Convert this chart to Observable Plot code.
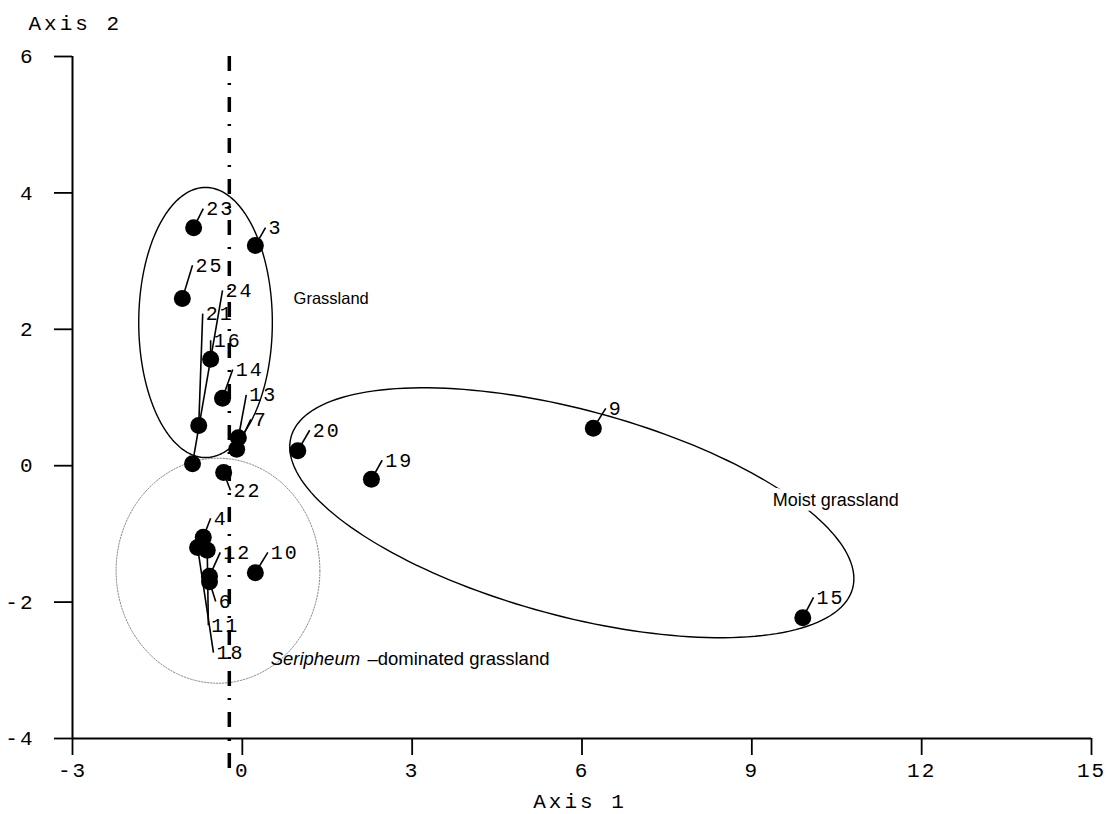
<!DOCTYPE html>
<html>
<head>
<meta charset="utf-8">
<script src="https://cdn.jsdelivr.net/npm/d3@7"></script>
<script src="https://cdn.jsdelivr.net/npm/@observablehq/plot@0.6"></script>
<style>
html, body { margin: 0; padding: 0; background: #fff; }
g[font-family="Liberation Mono"] { letter-spacing: 2px; }
g[font-family="Liberation Mono, monospace"] { letter-spacing: 3px; }
</style>
</head>
<body>
<div id="chart"></div>
<script>
// Sample scores (Axis 1, Axis 2) and their label anchor positions
const sampleIds = ["23","3","25","24","21","16","14","13","7","22","4","12","6","11","18","10","20","19","9","15"];
const axis1 = [-0.86, 0.23, -1.06, -0.88, -0.77, -0.56, -0.35, -0.07, -0.10, -0.33, -0.69, -0.58, -0.58, -0.62, -0.79, 0.23, 0.98, 2.28, 6.20, 9.90];
const axis2 = [3.49, 3.23, 2.45, 0.03, 0.59, 1.56, 0.99, 0.41, 0.24, -0.10, -1.05, -1.62, -1.70, -1.24, -1.20, -1.57, 0.22, -0.20, 0.55, -2.23];
const labelAxis1 = [-0.69, 0.41, -0.88, -0.35, -0.70, -0.56, -0.17, 0.07, 0.15, -0.21, -0.56, -0.39, -0.47, -0.60, -0.51, 0.45, 1.19, 2.47, 6.42, 10.09];
const labelAxis2 = [3.77, 3.49, 2.94, 2.57, 2.23, 1.84, 1.41, 1.04, 0.68, -0.36, -0.77, -1.27, -1.99, -2.34, -2.74, -1.27, 0.52, 0.08, 0.84, -1.93];

// Group ellipses: centre and two conjugate semi-axis vectors (data units)
const ellipseNames = ["Grassland", "Seripheum", "Moist grassland"];
const ellipseCX = [-0.65, -0.43, 5.82];
const ellipseCY = [2.10, -1.54, -0.69];
const ellipseUX = [1.18, 1.80, 4.96];
const ellipseUY = [0, 0, -1.11];
const ellipseVX = [0, 0, -0.475];
const ellipseVY = [1.98, 1.65, -1.458];

// Group labels
const regionText = ["Grassland", "Seripheum", "\u2013dominated grassland", "Moist grassland"];
const regionX = [0.905, 0.50, 2.21, 9.37];
const regionY = [2.45, -2.83, -2.83, -0.50];
const regionItalic = [false, true, false, false];
const regionSize = [16.5, 18.5, 18.5, 18];

// Reference (dash-dot) line
const refLineX = -0.23;
const refLineY = [6, -4.47];

const xTicks = [-3, 0, 3, 6, 9, 12, 15];
const yTicks = [-4, -2, 0, 2, 4, 6];

const samples = sampleIds.map((id, i) => ({id, x: axis1[i], y: axis2[i], lx: labelAxis1[i], ly: labelAxis2[i]}));
const ellipsePts = [];
ellipseNames.forEach((name, i) => {
  const n = 180;
  for (let k = 0; k < n; k++) {
    const t = 2 * Math.PI * k / n;
    ellipsePts.push({
      name,
      x: ellipseCX[i] + ellipseUX[i] * Math.cos(t) + ellipseVX[i] * Math.sin(t),
      y: ellipseCY[i] + ellipseUY[i] * Math.cos(t) + ellipseVY[i] * Math.sin(t)
    });
  }
});
const regions = regionText.map((t, i) => ({t, x: regionX[i], y: regionY[i], it: regionItalic[i], s: regionSize[i]}));
const fmt = d => (d < 0 ? "-" + Math.abs(d) : String(d));

const plot = Plot.plot({
  width: 1114,
  height: 814,
  marginLeft: 72,
  marginRight: 23,
  marginTop: 56,
  marginBottom: 76,
  style: {background: "white", overflow: "visible"},
  x: {domain: [-3, 15], axis: null},
  y: {domain: [-4, 6], axis: null},
  marks: [
    Plot.line(ellipsePts.filter(d => d.name !== "Seripheum"), {x: "x", y: "y", z: "name", curve: "linear-closed", stroke: "black", strokeWidth: 1.4}),
    Plot.line(ellipsePts.filter(d => d.name === "Seripheum"), {x: "x", y: "y", z: "name", curve: "linear-closed", stroke: "#8c8c8c", strokeWidth: 1, strokeDasharray: "1.5,1.5"}),
    Plot.ruleX([refLineX], {x: d => d, y1: refLineY[0], y2: refLineY[1], stroke: "black", strokeWidth: 3.5, strokeDasharray: "15,12,2,12"}),
    Plot.ruleY([-4], {stroke: "black", strokeWidth: 2}),
    Plot.ruleX([-3], {stroke: "black", strokeWidth: 2}),
    Plot.axisX({ticks: xTicks, tickSize: 17, tickPadding: 7, tickFormat: fmt, fontFamily: "Liberation Mono", fontSize: 21, strokeWidth: 1.8, label: null}),
    Plot.axisY({ticks: yTicks, tickSize: 18, tickPadding: 20, tickFormat: fmt, fontFamily: "Liberation Mono", fontSize: 21, strokeWidth: 1.8, label: null}),
    Plot.text(["Axis 2"], {frameAnchor: "top-left", text: d => d, dx: -44, dy: -41, textAnchor: "start", fontFamily: "Liberation Mono, monospace", fontSize: 21, fill: "black"}),
    Plot.text(["Axis 1"], {frameAnchor: "bottom", text: d => d, dx: -2, dy: 69, textAnchor: "middle", fontFamily: "Liberation Mono, monospace", fontSize: 21, fill: "black"}),
    Plot.link(samples, {x1: "x", y1: "y", x2: "lx", y2: "ly", stroke: "black", strokeWidth: 1.6}),
    Plot.dot(samples, {x: "x", y: "y", r: 8.5, fill: "black", stroke: "none"}),
    Plot.text(samples, {x: "lx", y: "ly", text: "id", textAnchor: "start", dx: 3, dy: 0, fontFamily: "Liberation Mono", fontSize: 20, fill: "black"}),
    Plot.text(regions.filter(d => !d.it), {x: "x", y: "y", text: "t", textAnchor: "start", fontFamily: "Liberation Sans", fontSize: d => d.s, fill: "black", stroke: "white", strokeWidth: 10, paintOrder: "stroke"}),
    Plot.text(regions.filter(d => d.it), {x: "x", y: "y", text: "t", textAnchor: "start", fontFamily: "Liberation Sans", fontStyle: "italic", fontSize: d => d.s, fill: "black"})
  ]
});
document.getElementById("chart").appendChild(plot);
</script>
</body>
</html>
